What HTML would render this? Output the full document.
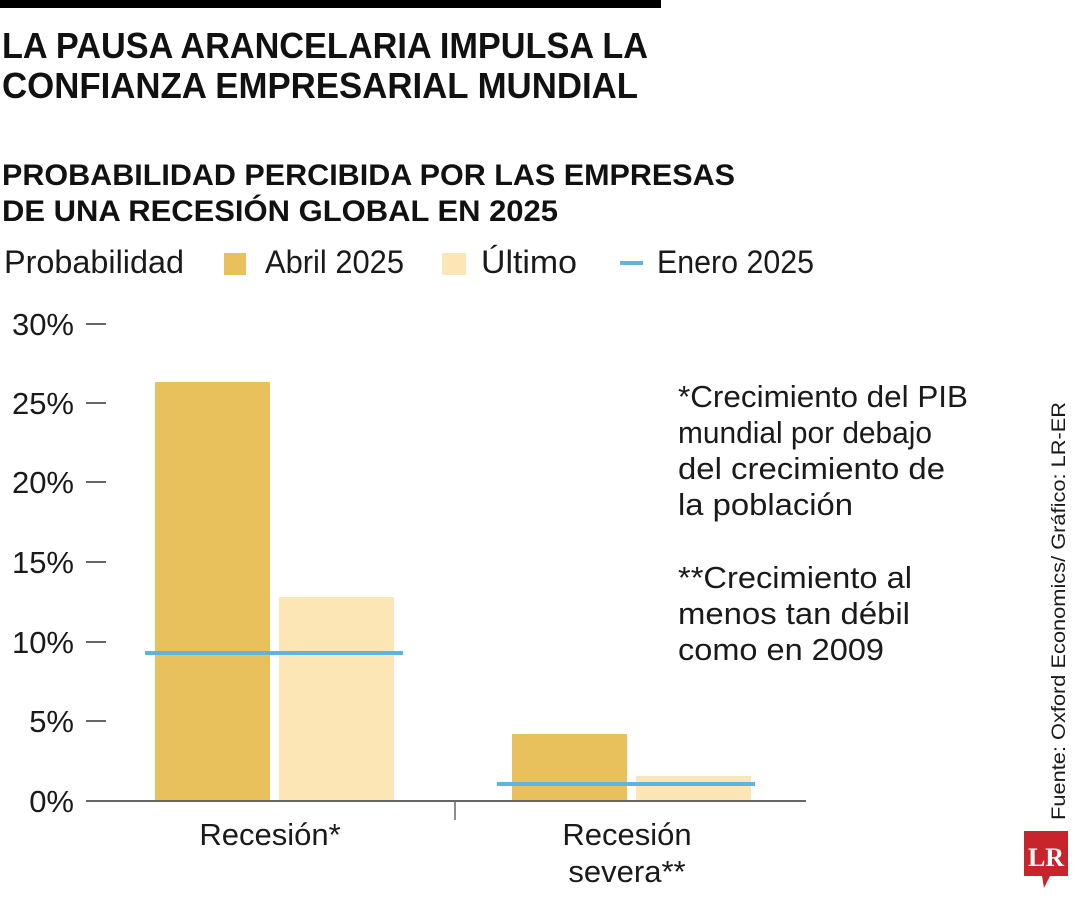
<!DOCTYPE html>
<html><head><meta charset="utf-8"><style>
html,body{margin:0;padding:0;background:#fff;}
svg{display:block;}
text{font-family:"Liberation Sans",sans-serif;fill:#1a1a1a;}
.b{font-weight:bold;fill:#111;}
</style></head><body>
<svg width="1080" height="900" viewBox="0 0 1080 900">
<rect x="0" y="0" width="661" height="8" fill="#000"/>
<text class="b" x="2" y="58" font-size="36" textLength="646" lengthAdjust="spacingAndGlyphs">LA PAUSA ARANCELARIA IMPULSA LA</text>
<text class="b" x="2" y="98" font-size="36" textLength="636" lengthAdjust="spacingAndGlyphs">CONFIANZA EMPRESARIAL MUNDIAL</text>
<text class="b" x="2" y="185" font-size="30" textLength="733" lengthAdjust="spacingAndGlyphs">PROBABILIDAD PERCIBIDA POR LAS EMPRESAS</text>
<text class="b" x="2" y="221" font-size="30" textLength="556" lengthAdjust="spacingAndGlyphs">DE UNA RECESIÓN GLOBAL EN 2025</text>

<text x="4" y="273" font-size="32" textLength="180" lengthAdjust="spacingAndGlyphs">Probabilidad</text>
<rect x="224" y="253" width="22" height="22" fill="#e8c15c"/>
<text x="265" y="273" font-size="32" textLength="139" lengthAdjust="spacingAndGlyphs">Abril 2025</text>
<rect x="442" y="253" width="24" height="22" fill="#fde6b5"/>
<text x="481" y="273" font-size="32" textLength="96" lengthAdjust="spacingAndGlyphs">Último</text>
<rect x="620" y="261" width="23" height="4" fill="#5eb4df"/>
<text x="657" y="273" font-size="32" textLength="157" lengthAdjust="spacingAndGlyphs">Enero 2025</text>

<g font-size="31" text-anchor="end">
<text x="74" y="335">30%</text>
<text x="74" y="414">25%</text>
<text x="74" y="493">20%</text>
<text x="74" y="573">15%</text>
<text x="74" y="653">10%</text>
<text x="74" y="732">5%</text>
<text x="74" y="812">0%</text>
</g>
<g stroke="#666" stroke-width="2">
<line x1="86" y1="324" x2="106" y2="324"/>
<line x1="86" y1="403" x2="106" y2="403"/>
<line x1="86" y1="482" x2="106" y2="482"/>
<line x1="86" y1="562" x2="106" y2="562"/>
<line x1="86" y1="642" x2="106" y2="642"/>
<line x1="86" y1="721" x2="106" y2="721"/>
</g>
<rect x="155" y="382" width="115" height="419" fill="#e8c15c"/>
<rect x="279" y="597" width="115" height="204" fill="#fde6b5"/>
<rect x="512" y="734" width="115" height="67" fill="#e8c15c"/>
<rect x="636" y="776" width="115" height="25" fill="#fde6b5"/>
<rect x="145" y="651" width="258" height="4" fill="#5eb4df"/>
<rect x="497" y="782" width="258" height="4" fill="#5eb4df"/>
<line x1="86" y1="801" x2="806" y2="801" stroke="#666" stroke-width="2"/>
<line x1="455" y1="801" x2="455" y2="820" stroke="#666" stroke-width="1.5"/>

<g font-size="31" text-anchor="middle">
<text x="270" y="845">Recesión*</text>
<text x="627" y="845">Recesión</text>
<text x="627" y="882">severa**</text>
</g>
<g font-size="31" lengthAdjust="spacingAndGlyphs">
<text x="678" y="407" textLength="290" lengthAdjust="spacingAndGlyphs">*Crecimiento del PIB</text>
<text x="678" y="443" textLength="254" lengthAdjust="spacingAndGlyphs">mundial por debajo</text>
<text x="678" y="479" textLength="267" lengthAdjust="spacingAndGlyphs">del crecimiento de</text>
<text x="678" y="515" textLength="175" lengthAdjust="spacingAndGlyphs">la población</text>
<text x="678" y="588" textLength="234" lengthAdjust="spacingAndGlyphs">**Crecimiento al</text>
<text x="678" y="624" textLength="232" lengthAdjust="spacingAndGlyphs">menos tan débil</text>
<text x="678" y="660" textLength="206" lengthAdjust="spacingAndGlyphs">como en 2009</text>
</g>
<text transform="translate(1065,820) rotate(-90)" font-size="19" textLength="418" lengthAdjust="spacingAndGlyphs">Fuente: Oxford Economics/ Gráfico: LR-ER</text>
<path d="M1024 831 H1068 V876 H1050 L1044 888 L1042 876 H1024 Z" fill="#c8242b"/>
<text x="1046" y="866" font-size="26" text-anchor="middle" style="font-family:'Liberation Serif',serif;font-weight:bold;fill:#fff">LR</text>
</svg>
</body></html>
